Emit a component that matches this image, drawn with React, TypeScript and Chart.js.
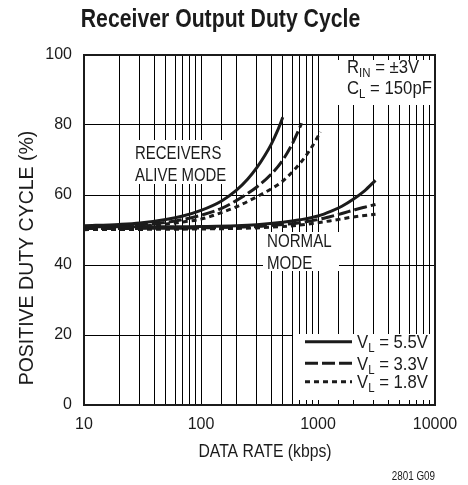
import React, { useEffect, useRef } from "react";
import { Chart, registerables } from "chart.js";

Chart.register(...registerables);

// ---- data ----
const xLabelTicks = [10, 100, 1000, 10000];
const yTickStep = 20;

const aliveRate55 = [10, 20, 30, 50, 70, 100, 150, 200, 250, 300, 350, 400, 450, 500];
const aliveDuty55 = [51.2, 51.6, 52.0, 53.0, 54.0, 55.6, 58.3, 61.3, 64.5, 67.8, 71.2, 74.6, 78.3, 82.2];

const aliveRate33 = [10, 20, 30, 50, 70, 100, 150, 200, 300, 400, 500, 600, 725];
const aliveDuty33 = [50.8, 51.2, 51.5, 52.2, 53.0, 54.2, 56.2, 58.4, 62.3, 66.0, 70.0, 74.5, 80.5];

const aliveRate18 = [10, 20, 30, 50, 70, 100, 150, 200, 300, 400, 500, 700, 850, 1050];
const aliveDuty18 = [50.4, 50.8, 51.1, 51.7, 52.3, 53.1, 55.0, 56.6, 59.5, 61.8, 64.0, 69.0, 72.8, 78.0];

const normalRate55 = [10, 50, 100, 200, 300, 500, 700, 1000, 1300, 1600, 2000, 2500, 3100];
const normalDuty55 = [50.9, 50.9, 51.0, 51.2, 51.5, 52.2, 52.9, 54.0, 55.4, 56.8, 58.8, 61.2, 64.2];

const normalRate33 = [10, 100, 300, 500, 700, 1000, 1260, 1600, 2070, 2500, 3100];
const normalDuty33 = [50.4, 50.6, 51.0, 51.6, 52.1, 53.0, 53.8, 54.7, 55.8, 56.5, 57.3];

const normalRate18 = [10, 100, 300, 500, 700, 1000, 1260, 2070, 3100];
const normalDuty18 = [50.1, 50.3, 50.6, 51.0, 51.4, 52.1, 52.6, 53.8, 54.5];

const legendLabels = ["5.5V", "3.3V", "1.8V"];

// ---- styles ----
const FONT_R = '"Liberation Sans", Arial, sans-serif';
const INK = "#1b1b1b";
const DASH_SOLID: number[] = [];
const DASH_LONG = [13, 4];
const DASH_SHORT = [5, 4];

function pts(xs: number[], ys: number[]) {
  return xs.map((x, i) => ({ x, y: ys[i] }));
}

function series(xs: number[], ys: number[], dash: number[]) {
  return {
    data: pts(xs, ys),
    borderColor: INK,
    borderWidth: 3,
    borderDash: dash,
    pointRadius: 0,
    fill: false,
    cubicInterpolationMode: "monotone" as const,
  };
}

// squeezed text (emulates a condensed face)
function txt(
  ctx: CanvasRenderingContext2D,
  s: string,
  x: number,
  y: number,
  size: number,
  sx: number,
  align: "left" | "center" | "right" = "left",
  bold = false
) {
  ctx.save();
  ctx.font = `${bold ? "bold " : ""}${size}px ${FONT_R}`;
  const w = ctx.measureText(s).width * sx;
  const x0 = align === "center" ? x - w / 2 : align === "right" ? x - w : x;
  ctx.translate(x0, y);
  ctx.scale(sx, 1);
  ctx.textAlign = "left";
  ctx.textBaseline = "alphabetic";
  ctx.fillText(s, 0, 0);
  ctx.restore();
  return w;
}

function drawSub(
  ctx: CanvasRenderingContext2D,
  x: number,
  y: number,
  parts: [string, boolean][],
  size: number,
  subSize: number,
  sx: number
) {
  let cx = x;
  for (const [t, sub] of parts) {
    cx += txt(ctx, t, cx, sub ? y + 4 : y, sub ? subSize : size, sx);
  }
}

const decorPlugin = {
  id: "decor",
  beforeDatasetsDraw(chart: any) {
    const ctx: CanvasRenderingContext2D = chart.ctx;
    const a = chart.chartArea;
    ctx.save();
    ctx.fillStyle = "#ffffff";
    ctx.fillRect(a.left + 49, 140, 99, 44);
    ctx.fillRect(a.left + 179, 232, 76, 39);
    ctx.fillRect(a.left + 239, a.top + 5, a.right - a.left - 239, 45);
    ctx.fillRect(a.left + 209, 334, a.right - a.left - 209, 66);

    ctx.fillStyle = INK;
    txt(ctx, "RECEIVERS", a.left + 51, 159, 18, 0.83);
    txt(ctx, "ALIVE MODE", a.left + 51, 181, 18, 0.83);
    txt(ctx, "NORMAL", a.left + 183, 247, 18, 0.84);
    txt(ctx, "MODE", a.left + 183, 268.5, 18, 0.84);

    drawSub(ctx, a.left + 263, 73, [["R", false], ["IN", true], [" = ±3V", false]], 19, 13, 0.88);
    drawSub(ctx, a.left + 263, 93.5, [["C", false], ["L", true], [" = 150pF", false]], 19, 13, 0.88);
    ctx.restore();
  },
  afterDraw(chart: any) {
    const ctx: CanvasRenderingContext2D = chart.ctx;
    const a = chart.chartArea;
    ctx.save();
    ctx.strokeStyle = INK;
    ctx.lineWidth = 2;
    ctx.strokeRect(a.left, a.top, a.right - a.left, a.bottom - a.top);

    const dashes = [DASH_SOLID, DASH_LONG, DASH_SHORT];
    const rowY = [341.7, 363.3, 381.7];
    for (let i = 0; i < legendLabels.length; i++) {
      ctx.setLineDash(dashes[i]);
      ctx.lineWidth = 3;
      ctx.beginPath();
      ctx.moveTo(a.left + 221, rowY[i]);
      ctx.lineTo(a.left + 268, rowY[i]);
      ctx.stroke();
      ctx.setLineDash([]);
      ctx.fillStyle = INK;
      drawSub(ctx, a.left + 273, rowY[i] + 6.6, [["V", false], ["L", true], [" = " + legendLabels[i], false]], 19, 13, 0.88);
    }

    ctx.fillStyle = INK;
    txt(ctx, "Receiver Output Duty Cycle", 220.5, 27, 26, 0.816, "center", true);
    txt(ctx, "DATA RATE (kbps)", 265, 457, 19, 0.83, "center");

    ctx.save();
    ctx.translate(33, 258);
    ctx.rotate(-Math.PI / 2);
    txt(ctx, "POSITIVE DUTY CYCLE (%)", 0, 0, 19.5, 1, "center");
    ctx.restore();

    txt(ctx, "2801 G09", a.right, 480, 12, 0.82, "right");
    ctx.restore();
  },
};

export default function App() {
  const ref = useRef<HTMLCanvasElement | null>(null);

  useEffect(() => {
    document.body.style.margin = "0";
    const canvas = ref.current;
    if (!canvas) return;
    const chart = new Chart(canvas, {
      type: "line",
      data: {
        datasets: [
          series(aliveRate55, aliveDuty55, DASH_SOLID),
          series(aliveRate33, aliveDuty33, DASH_LONG),
          series(aliveRate18, aliveDuty18, DASH_SHORT),
          series(normalRate55, normalDuty55, DASH_SOLID),
          series(normalRate33, normalDuty33, DASH_LONG),
          series(normalRate18, normalDuty18, DASH_SHORT),
        ],
      },
      options: {
        responsive: false,
        animation: false,
        devicePixelRatio: 1,
        layout: { padding: { top: 55, right: 33, left: 0, bottom: 0 } },
        plugins: {
          legend: { display: false },
          tooltip: { enabled: false },
          title: { display: false },
        },
        scales: {
          x: {
            type: "logarithmic",
            min: 10,
            max: 10000,
            grid: { color: "#000", lineWidth: 1, drawTicks: false },
            border: { display: false },
            ticks: {
              autoSkip: false,
              maxRotation: 0,
              minRotation: 0,
              padding: 10,
              color: INK,
              font: { family: FONT_R, size: 16 },
              callback: (v: any) =>
                xLabelTicks.indexOf(Math.round(Number(v))) >= 0 ? String(Math.round(Number(v))) : "",
            },
            afterFit: (s: any) => {
              s.height = 80;
            },
          },
          y: {
            type: "linear",
            min: 0,
            max: 100,
            grid: { color: "#000", lineWidth: 1, drawTicks: false },
            border: { display: false },
            ticks: {
              stepSize: yTickStep,
              padding: 12,
              color: INK,
              font: { family: FONT_R, size: 16 },
            },
            afterFit: (s: any) => {
              s.width = 84;
            },
          },
        },
      } as any,
      plugins: [decorPlugin],
    });
    return () => chart.destroy();
  }, []);

  return <canvas ref={ref} width={468} height={485} style={{ display: "block" }} />;
}
